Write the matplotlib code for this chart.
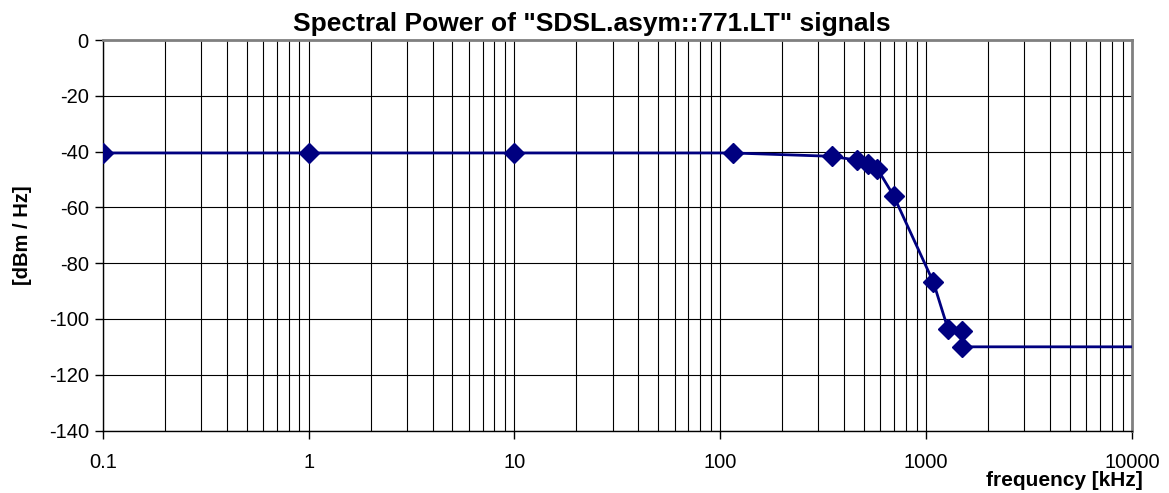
import numpy as np
import matplotlib.pyplot as plt
from matplotlib.ticker import LogLocator, FixedLocator, NullFormatter

# Données
freq_khz = [0.1, 1, 10, 115, 348, 464, 521, 580, 695, 1086, 1276, 1493, 1493, 20000]
power_dbm_hz = [-40.5, -40.5, -40.5, -40.5, -41.7, -43.1, -44.3, -46.2, -55.8,
                -86.9, -103.5, -104.5, -110, -110]

x_ticks = [0.1, 1, 10, 100, 1000, 10000]
x_tick_labels = ["0.1", "1", "10", "100", "1000", "10000"]
y_ticks = list(range(-140, 1, 20))

plt.rcParams["font.family"] = ["Liberation Sans", "DejaVu Sans"]
plt.rcParams["axes.unicode_minus"] = False

fig = plt.figure(figsize=(11.69, 4.93), dpi=100)
ax = fig.add_axes([0.0879, 1 - 430.5 / 493, 0.8804, (430.5 - 40) / 493])

ax.set_xscale("log")
ax.set_xlim(0.1, 10000)
ax.set_ylim(-140, 0)

# grille style Excel
ax.xaxis.set_major_locator(FixedLocator(x_ticks))
ax.set_xticklabels(x_tick_labels)
ax.xaxis.set_minor_locator(LogLocator(base=10, subs=np.arange(2, 10)))
ax.xaxis.set_minor_formatter(NullFormatter())
ax.set_yticks(y_ticks)
ax.grid(True, which="major", color="black", linewidth=0.8)
ax.grid(True, which="minor", axis="x", color="black", linewidth=0.8)
ax.set_axisbelow(True)

# courbe principale
ax.plot(freq_khz[:-1], power_dbm_hz[:-1], linestyle="none", marker="D",
        markersize=10, color="#000080", zorder=4)
ax.plot(freq_khz, power_dbm_hz, color="#000080", linewidth=2, zorder=3)

for side in ["top", "right"]:
    ax.spines[side].set_color("#808080")
    ax.spines[side].set_linewidth(2)
for side in ["left", "bottom"]:
    ax.spines[side].set_color("black")
    ax.spines[side].set_linewidth(1)

ax.tick_params(axis="both", which="major", direction="out", length=6,
               labelsize=14.5, width=1)
ax.tick_params(axis="y", which="major", pad=4)
ax.tick_params(axis="x", which="minor", length=0)
ax.tick_params(axis="x", which="major", labelsize=14.5, pad=10)

fig.text(591.5 / 1169, 1 - 31.5 / 493,
         'Spectral Power of "SDSL.asym::771.LT" signals',
         fontsize=19, fontweight="bold", ha="center", va="baseline")
ax.set_ylabel("[dBm / Hz]", fontsize=14.5, fontweight="bold", labelpad=12)
fig.text(1143 / 1169, 1 - 486 / 493, "frequency [kHz]", fontsize=15,
         fontweight="bold", ha="right", va="baseline")

fig.savefig("out.png", dpi=100)
